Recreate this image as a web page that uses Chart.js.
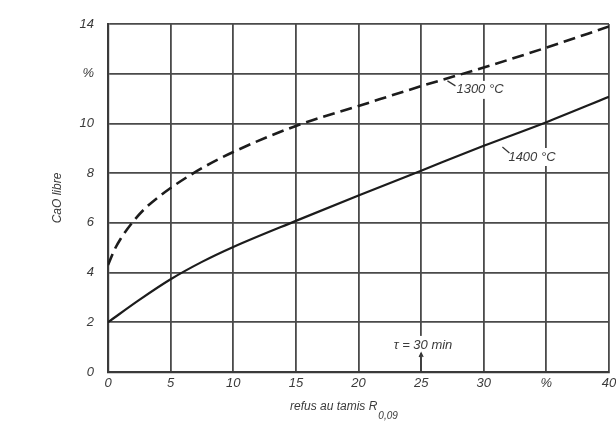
<!DOCTYPE html>
<html>
<head>
<meta charset="utf-8">
<script src="https://cdn.jsdelivr.net/npm/chart.js@4/dist/chart.umd.min.js"></script>
<style>
html,body{margin:0;padding:0;background:#fff;}
#c{display:block;}
</style>
</head>
<body>
<canvas id="c" width="616" height="427"></canvas>
<script>
// ---- data ----
const xValues1300 = [0, 0.5, 1, 2, 3, 5, 7.5, 10, 15, 20, 25, 30, 35, 40];
const yValues1300 = [4.3, 4.9, 5.35, 6.05, 6.6, 7.4, 8.2, 8.85, 9.9, 10.7, 11.5, 12.25, 13.05, 13.9];
const xValues1400 = [0, 2.5, 5, 7.5, 10, 15, 20, 25, 30, 35, 40];
const yValues1400 = [2, 2.9, 3.73, 4.43, 5.03, 6.08, 7.1, 8.1, 9.1, 10.05, 11.07];
const xTickLabels = ['0', '5', '10', '15', '20', '25', '30', '%', '40'];
const yTickLabels = ['0', '2', '4', '6', '8', '10', '%', '14'];
const seriesLabels = ['1300 °C', '1400 °C'];
const yTitle = 'CaO libre';
const xTitle = 'refus au tamis R';
const xTitleSub = '0,09';
const noteText = 'τ = 30 min';

const toPts = (xs, ys) => xs.map((x, i) => ({x: x, y: ys[i]}));
const FONT = 'italic 13px "Liberation Sans", "DejaVu Sans", sans-serif';
const INK = '#3a3a3a';

const annot = {
  id: 'annot',
  afterDatasetsDraw(chart) {
    const ctx = chart.ctx, xs = chart.scales.x, ys = chart.scales.y;
    const px = v => xs.getPixelForValue(v), py = v => ys.getPixelForValue(v);
    ctx.save();
    ctx.font = FONT;
    ctx.textBaseline = 'middle';
    ctx.textAlign = 'center';
    function label(text, dx, dy) {
      const w = ctx.measureText(text).width;
      const x = px(dx), y = py(dy);
      ctx.fillStyle = '#fff';
      ctx.fillRect(x - w / 2 - 3, y - 9, w + 6, 18);
      ctx.fillStyle = INK;
      ctx.fillText(text, x, y);
      return {x, y, w};
    }
    ctx.strokeStyle = '#333';
    ctx.lineWidth = 1.2;
    const a = label(seriesLabels[0], 29.7, 11.35);
    ctx.beginPath(); ctx.moveTo(a.x - a.w / 2 - 9, a.y - 9); ctx.lineTo(a.x - a.w / 2 - 1, a.y - 4); ctx.stroke();
    const b = label(seriesLabels[1], 33.85, 8.65);
    ctx.beginPath(); ctx.moveTo(b.x - b.w / 2 - 6, b.y - 10); ctx.lineTo(b.x - b.w / 2 + 1, b.y - 4); ctx.stroke();
    const c = label(noteText, 25.15, 1.09);
    const ax = px(25);
    ctx.beginPath(); ctx.moveTo(ax, py(0)); ctx.lineTo(ax, c.y + 8); ctx.stroke();
    ctx.beginPath(); ctx.moveTo(ax - 2, c.y + 12); ctx.lineTo(ax, c.y + 8); ctx.lineTo(ax + 2, c.y + 12); ctx.stroke();
    ctx.fillStyle = INK;
    ctx.save();
    ctx.translate(58, py(7));
    ctx.rotate(-Math.PI / 2);
    ctx.font = 'italic 12px "Liberation Sans", "DejaVu Sans", sans-serif';
    ctx.fillText(yTitle, 0, 0);
    ctx.restore();
    ctx.textAlign = 'left';
    ctx.font = 'italic 12px "Liberation Sans", "DejaVu Sans", sans-serif';
    const tw = ctx.measureText(xTitle).width;
    const tx = 290, ty = 407;
    ctx.fillText(xTitle, tx, ty);
    ctx.font = 'italic 10px "Liberation Sans", "DejaVu Sans", sans-serif';
    ctx.fillText(xTitleSub, tx + tw + 1, ty + 9);
    ctx.restore();
  }
};

new Chart(document.getElementById('c'), {
  type: 'scatter',
  data: {
    datasets: [
      {
        label: seriesLabels[0],
        data: toPts(xValues1300, yValues1300),
        showLine: true,
        borderColor: '#1c1c1c',
        borderWidth: 2.6,
        borderDash: [12, 6],
        pointRadius: 0,
        cubicInterpolationMode: 'monotone'
      },
      {
        label: seriesLabels[1],
        data: toPts(xValues1400, yValues1400),
        showLine: true,
        borderColor: '#1c1c1c',
        borderWidth: 2.2,
        pointRadius: 0,
        cubicInterpolationMode: 'monotone'
      }
    ]
  },
  options: {
    responsive: false,
    animation: false,
    events: [],
    layout: {padding: {top: 24, right: 7, left: 0, bottom: 0}},
    plugins: {legend: {display: false}, tooltip: {enabled: false}},
    scales: {
      x: {
        type: 'linear', min: 0, max: 40,
        afterFit(s) { s.height = 55; s.paddingRight = 0; s.paddingLeft = 0; },
        afterBuildTicks(s) { s.ticks = xTickLabels.map((t, i) => ({value: i * 5})); },
        ticks: {
          color: INK, font: {family: '"Liberation Sans", "DejaVu Sans", sans-serif', size: 13, style: 'italic'},
          padding: 4,
          callback: (v, i) => xTickLabels[i]
        },
        grid: {color: '#4a4a4a', lineWidth: 1.8, drawTicks: false},
        border: {color: '#3a3a3a', width: 2.2}
      },
      y: {
        type: 'linear', min: 0, max: 14,
        afterFit(s) { s.width = 108; s.paddingTop = 0; s.paddingBottom = 0; },
        afterBuildTicks(s) { s.ticks = yTickLabels.map((t, i) => ({value: i * 2})); },
        ticks: {
          color: INK, font: {family: '"Liberation Sans", "DejaVu Sans", sans-serif', size: 13, style: 'italic'},
          padding: 14,
          callback: (v, i) => yTickLabels[i]
        },
        grid: {color: '#4a4a4a', lineWidth: 1.8, drawTicks: false},
        border: {color: '#3a3a3a', width: 2.2}
      }
    }
  },
  plugins: [annot]
});
</script>
</body>
</html>
